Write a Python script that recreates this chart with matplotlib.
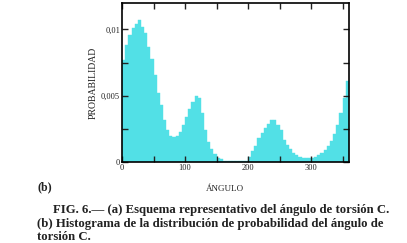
import numpy as np
import matplotlib.pyplot as plt
from matplotlib.ticker import MultipleLocator, FuncFormatter

# histograma del ángulo de torsión C (bins de 5 grados, 0-360)
bin_edges = np.arange(0, 360, 5)
prob = [0.0077, 0.0088, 0.0096, 0.0101, 0.0104, 0.0107, 0.0102, 0.0097,
        0.0087, 0.0078, 0.0066, 0.0052, 0.0043, 0.0032, 0.0024, 0.0020,
        0.0019, 0.0020, 0.0023, 0.0028, 0.0034, 0.0040, 0.0045, 0.0050,
        0.0048, 0.0037, 0.0024, 0.0015, 0.0010, 0.0006, 0.0003, 0.0002,
        0.0001, 0.00005, 0.00005, 0.00005, 0.00005, 0.00005, 0.00005, 0.0001,
        0.0004, 0.0008, 0.0012, 0.0018, 0.0022, 0.0026, 0.0029, 0.0032,
        0.0032, 0.0028, 0.0024, 0.0017, 0.0013, 0.0010, 0.0007, 0.0005,
        0.0004, 0.0003, 0.0003, 0.0003, 0.0003, 0.0004, 0.0005,
        0.0007, 0.0009, 0.0012, 0.0016, 0.0021, 0.0028, 0.0037, 0.0048,
        0.0061]

x_labels = {0: '0', 100: '100', 200: '200', 300: '300'}
y_labels = {0: '0', 0.005: '0,005', 0.01: '0,01'}

serif = ['Liberation Serif', 'DejaVu Serif']

fig = plt.figure(figsize=(4.07, 2.43), dpi=100)
ax = fig.add_axes([0.300, 0.333, 0.557, 0.655])

ax.bar(bin_edges, prob, width=5, align='edge', color='#52e0e6',
       edgecolor='#52e0e6', linewidth=0.3)

ax.set_xlim(0, 360)
ax.set_ylim(0, 0.012)

ax.xaxis.set_major_locator(MultipleLocator(50))
ax.yaxis.set_major_locator(MultipleLocator(0.0025))
ax.xaxis.set_major_formatter(FuncFormatter(
    lambda v, p: next((s for k, s in x_labels.items() if abs(v - k) < 1e-6), '')))
ax.yaxis.set_major_formatter(FuncFormatter(
    lambda v, p: next((s for k, s in y_labels.items() if abs(v - k) < 1e-9), '')))
ax.tick_params(direction='in', length=4, width=1, top=True, right=True,
               labelsize=6, pad=1.5, colors='#222222')
for lab in ax.get_xticklabels() + ax.get_yticklabels():
    lab.set_family(serif)
for s in ax.spines.values():
    s.set_linewidth(1.2)

ax.set_ylabel('PROBABILIDAD', family=serif, fontsize=7, color='#222222', labelpad=2)

fig.text(225 / 407, 1 - 189 / 243, 'ÁNGULO', family=serif, fontsize=6.5,
         ha='center', va='center', color='#222222')
fig.text(37 / 407, 1 - 187 / 243, '(b)', family=serif, fontsize=8.5,
         weight='bold', ha='left', va='center', color='#222222')

cap = [(53, 210, 'FIG. 6.— (a) Esquema representativo del ángulo de torsión C.'),
       (37, 224, '(b) Histograma de la distribución de probabilidad del ángulo de'),
       (37, 237, 'torsión C.')]
for cx, cy, t in cap:
    fig.text(cx / 407, 1 - cy / 243, t, family=serif, fontsize=9.2,
             weight='bold', ha='left', va='center', color='#222222')

fig.savefig('out.png', dpi=100)
